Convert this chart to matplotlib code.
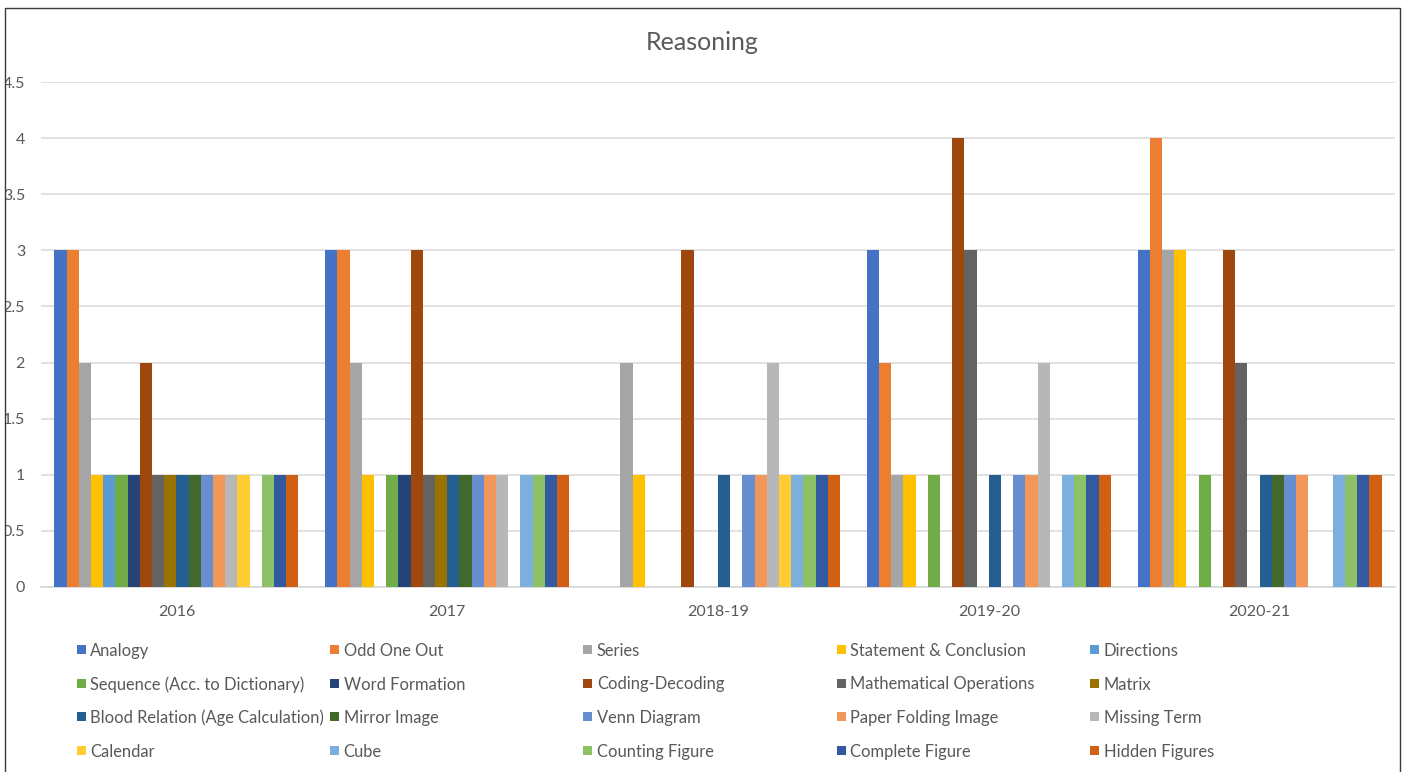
import matplotlib
matplotlib.use("Agg")
import matplotlib.pyplot as plt
import numpy as np
from matplotlib.patches import Rectangle
from matplotlib.ticker import MultipleLocator, FormatStrFormatter
from matplotlib.transforms import Bbox

plt.rcParams['font.family'] = ['Lato', 'DejaVu Sans']

years = ["2016", "2017", "2018-19", "2019-20", "2020-21"]

topics = [
    "Analogy", "Odd One Out", "Series", "Statement & Conclusion", "Directions",
    "Sequence (Acc. to Dictionary)", "Word Formation", "Coding-Decoding",
    "Mathematical Operations", "Matrix",
    "Blood Relation (Age Calculation)", "Mirror Image", "Venn Diagram",
    "Paper Folding Image", "Missing Term",
    "Calendar", "Cube", "Counting Figure", "Complete Figure", "Hidden Figures",
]

# one row per topic, one value per year
counts = [
    [3, 3, 0, 3, 3],  # Analogy
    [3, 3, 0, 2, 4],  # Odd One Out
    [2, 2, 2, 1, 3],  # Series
    [1, 1, 1, 1, 3],  # Statement & Conclusion
    [1, 0, 0, 0, 0],  # Directions
    [1, 1, 0, 1, 1],  # Sequence
    [1, 1, 0, 0, 0],  # Word Formation
    [2, 3, 3, 4, 3],  # Coding-Decoding
    [1, 1, 0, 3, 2],  # Mathematical Operations
    [1, 1, 0, 0, 0],  # Matrix
    [1, 1, 1, 1, 1],  # Blood Relation
    [1, 1, 0, 0, 1],  # Mirror Image
    [1, 1, 1, 1, 1],  # Venn Diagram
    [1, 1, 1, 1, 1],  # Paper Folding Image
    [1, 1, 2, 2, 0],  # Missing Term
    [1, 0, 1, 0, 0],  # Calendar
    [0, 1, 1, 1, 1],  # Cube
    [1, 1, 1, 1, 1],  # Counting Figure
    [1, 1, 1, 1, 1],  # Complete Figure
    [1, 1, 1, 1, 1],  # Hidden Figures
]

colors = [
    "#4472C4", "#ED7D31", "#A5A5A5", "#FFC000", "#5B9BD5",
    "#70AD47", "#264478", "#9E480E", "#636363", "#997300",
    "#255E91", "#43682B", "#698ED0", "#F1975A", "#B7B7B7",
    "#FFCD33", "#7CAFDD", "#8CC168", "#335AA1", "#D26012",
]

W, H = 1405, 772
fig = plt.figure(figsize=(W / 100, H / 100), dpi=100)
ax = fig.add_axes([41 / W, 1 - 587 / H, (1395 - 41) / W, (587 - 82) / H])

n = len(topics)
gap = 2.19  # excel default gap width
bw = 1 / (n + gap)
x = np.arange(len(years))
for i, (name, vals) in enumerate(zip(topics, counts)):
    offs = (i - (n - 1) / 2) * bw
    ax.bar(x + offs, vals, width=bw, color=colors[i], label=name, linewidth=0, zorder=3)

ax.set_xlim(-0.5, len(years) - 0.5)
ax.set_ylim(0, 4.5)
ax.yaxis.set_major_locator(MultipleLocator(0.5))
ax.yaxis.set_major_formatter(FormatStrFormatter('%g'))
ax.grid(axis='y', color='#D9D9D9', linewidth=1.1, zorder=0)
ax.set_xticks(x)
ax.set_xticklabels(years)
for s in ['top', 'right', 'left']:
    ax.spines[s].set_visible(False)
ax.spines['bottom'].set_color('#D9D9D9')
ax.spines['bottom'].set_linewidth(1.3)
ax.tick_params(axis='both', length=0, colors='#595959', labelsize=11.5)
ax.tick_params(axis='y', pad=11.5)
ax.tick_params(axis='x', pad=13)

fig.text(0.5, 1 - 42 / H, "Reasoning", ha='center', va='center',
         fontsize=18, color='#595959')

# chart frame
fx0, fy0 = 5, 8
frame = Rectangle((fx0 / W, -0.02), (1400 - fx0) / W, 1 - fy0 / H + 0.02,
                  transform=fig.transFigure, fill=False, edgecolor='#3a3a3a',
                  linewidth=1.0, zorder=10)
fig.patches.append(frame)

# y labels are cut by the frame on the left
clip = Bbox.from_extents(fx0, 0, W, H - fy0)
for lab in ax.get_yticklabels():
    lab.set_clip_box(clip)
    lab.set_clip_on(True)

# legend, 5 columns filled row by row like excel does it
col_x = [76.7, 330, 583.3, 836.7, 1090]
row_y = [649.3, 683, 716.7, 750.3]
sq = 9
for k, name in enumerate(topics):
    r, c = divmod(k, 5)
    lx, ly = col_x[c], row_y[r]
    fig.patches.append(Rectangle((lx / W, 1 - (ly + sq / 2) / H), sq / W, sq / H,
                                 transform=fig.transFigure, facecolor=colors[k],
                                 linewidth=0))
    fig.text((lx + 13.5) / W, 1 - ly / H, name, ha='left', va='center_baseline',
             fontsize=11.9, color='#595959')

fig.savefig("out.png", dpi=100)
